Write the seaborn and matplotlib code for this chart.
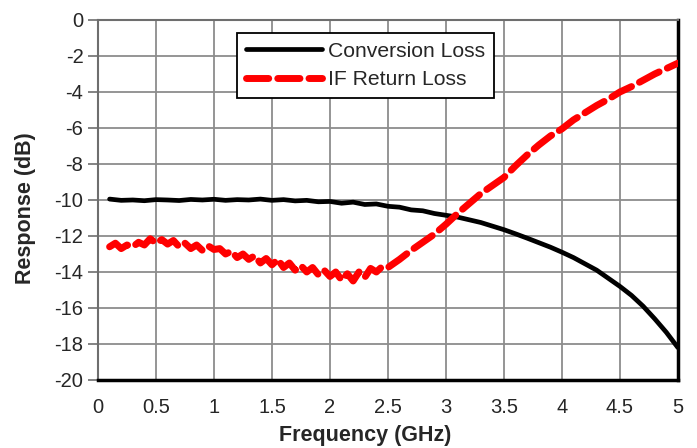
import numpy as np
import pandas as pd
import matplotlib
matplotlib.use("Agg")
import matplotlib.pyplot as plt
import seaborn as sns

# values
conv_freq = [0.1, 0.2, 0.3, 0.4, 0.5, 0.6, 0.7, 0.8, 0.9, 1.0, 1.1, 1.2, 1.3, 1.4, 1.5,
             1.6, 1.7, 1.8, 1.9, 2.0, 2.1, 2.2, 2.3, 2.4, 2.5, 2.6, 2.7, 2.8, 2.9, 3.0,
             3.1, 3.2, 3.3, 3.4, 3.5, 3.6, 3.7, 3.8, 3.9, 4.0, 4.1, 4.2, 4.3, 4.4, 4.5,
             4.6, 4.7, 4.8, 4.9, 5.0]
conv_loss = [-9.95, -10.02, -10.0, -10.04, -9.98, -10.0, -10.03, -9.97, -10.0, -9.96, -10.02, -9.98, -10.0, -9.95, -10.02,
             -9.98, -10.05, -10.02, -10.1, -10.08, -10.18, -10.12, -10.25, -10.22, -10.35, -10.4, -10.55, -10.6, -10.75, -10.85,
             -10.95, -11.1, -11.25, -11.45, -11.65, -11.88, -12.12, -12.37, -12.62, -12.9, -13.2, -13.55, -13.9, -14.35, -14.8,
             -15.3, -15.9, -16.6, -17.35, -18.2]

rl_freq = [0.1, 0.15, 0.2, 0.25, 0.3, 0.35, 0.4, 0.45, 0.5, 0.55, 0.6, 0.65, 0.7, 0.75, 0.8, 0.85,
           0.9, 0.95, 1.0, 1.05, 1.1, 1.15, 1.2, 1.25, 1.3, 1.35, 1.4, 1.45, 1.5, 1.55, 1.6, 1.65,
           1.7, 1.75, 1.8, 1.85, 1.9, 1.95, 2.0, 2.05, 2.1, 2.15, 2.2, 2.25, 2.3, 2.35, 2.4, 2.45,
           2.5, 2.6, 2.7, 2.8, 2.9, 3.0, 3.1, 3.2, 3.3, 3.4, 3.5, 3.6, 3.7, 3.8,
           3.9, 4.0, 4.1, 4.2, 4.3, 4.4, 4.5, 4.6, 4.7, 4.8, 4.9, 5.0]
rl_loss = [-12.6, -12.4, -12.7, -12.5, -12.6, -12.35, -12.5, -12.15, -12.4, -12.2, -12.45, -12.25, -12.6, -12.4, -12.7, -12.5,
           -12.8, -12.55, -12.75, -12.7, -13.0, -12.85, -13.2, -13.0, -13.3, -13.1, -13.5, -13.25, -13.6, -13.3, -13.75, -13.5,
           -13.9, -13.65, -14.0, -13.75, -14.15, -13.9, -14.25, -14.0, -14.45, -14.1, -14.5, -14.0, -14.3, -13.8, -14.0, -13.7,
           -13.75, -13.3, -12.8, -12.35, -11.9, -11.35, -10.75, -10.2, -9.65, -9.2, -8.75, -8.1, -7.5, -6.95,
           -6.45, -6.05, -5.55, -5.15, -4.75, -4.4, -4.0, -3.7, -3.35, -3.0, -2.7, -2.4]

x_ticks = ["0", "0.5", "1", "1.5", "2", "2.5", "3", "3.5", "4", "4.5", "5"]

conv = pd.DataFrame({"freq": conv_freq, "resp": conv_loss})
rl = pd.DataFrame({"freq": rl_freq, "resp": rl_loss})

sns.set_style("white")
plt.rcParams["font.family"] = ["Liberation Sans", "DejaVu Sans"]
plt.rcParams["axes.unicode_minus"] = False

fig = plt.figure(figsize=(6.97, 4.48), dpi=100)
ax = fig.add_axes([0.1406, 0.1518, 0.832, 0.8036])

sns.lineplot(data=conv, x="freq", y="resp", ax=ax, color="black", lw=3.4,
             label="Conversion Loss", zorder=3)
sns.lineplot(data=rl, x="freq", y="resp", ax=ax, color="#ff0000", lw=5.0,
             label="IF Return Loss", zorder=4)
ax.lines[1].set_dashes([3.2, 1.3])
ax.lines[1].set_dash_capstyle("round")

ax.set_xlim(0, 5)
ax.set_ylim(-20, 0)
ax.set_xticks(np.arange(0, 5.01, 0.5))
ax.set_xticklabels(x_ticks)
ax.set_yticks(np.arange(-20, 0.1, 2))
ax.grid(True, color="#8c8c8c", lw=1.3)
ax.set_axisbelow(True)

for s in ["left", "top"]:
    ax.spines[s].set_color("#6e6e6e")
    ax.spines[s].set_linewidth(1.5)
for s in ["bottom", "right"]:
    ax.spines[s].set_color("black")
    ax.spines[s].set_linewidth(2.5)

ax.tick_params(axis="y", which="both", left=True, length=7, width=1.2, color="#6e6e6e",
               labelsize=14.5, pad=3.5)
ax.tick_params(axis="x", bottom=False, length=0, labelsize=14.5, pad=13)

ax.set_xlabel("Frequency (GHz)", fontsize=15.5, fontweight="bold")
ax.set_ylabel("Response (dB)", fontsize=15.5, fontweight="bold")
ax.xaxis.set_label_coords(0.46, -0.125)
ax.yaxis.set_label_coords(-0.107, 0.478)

leg = ax.legend(loc="upper left", bbox_to_anchor=(0.2397, 0.964), fontsize=15.2,
                frameon=True, fancybox=False, handlelength=3.6, handletextpad=0.28,
                borderpad=0.42, labelspacing=0.45, borderaxespad=0)
leg.get_frame().set_edgecolor("black")
leg.get_frame().set_linewidth(1.3)
leg.get_frame().set_alpha(1)

fig.savefig("out.png", dpi=100)
